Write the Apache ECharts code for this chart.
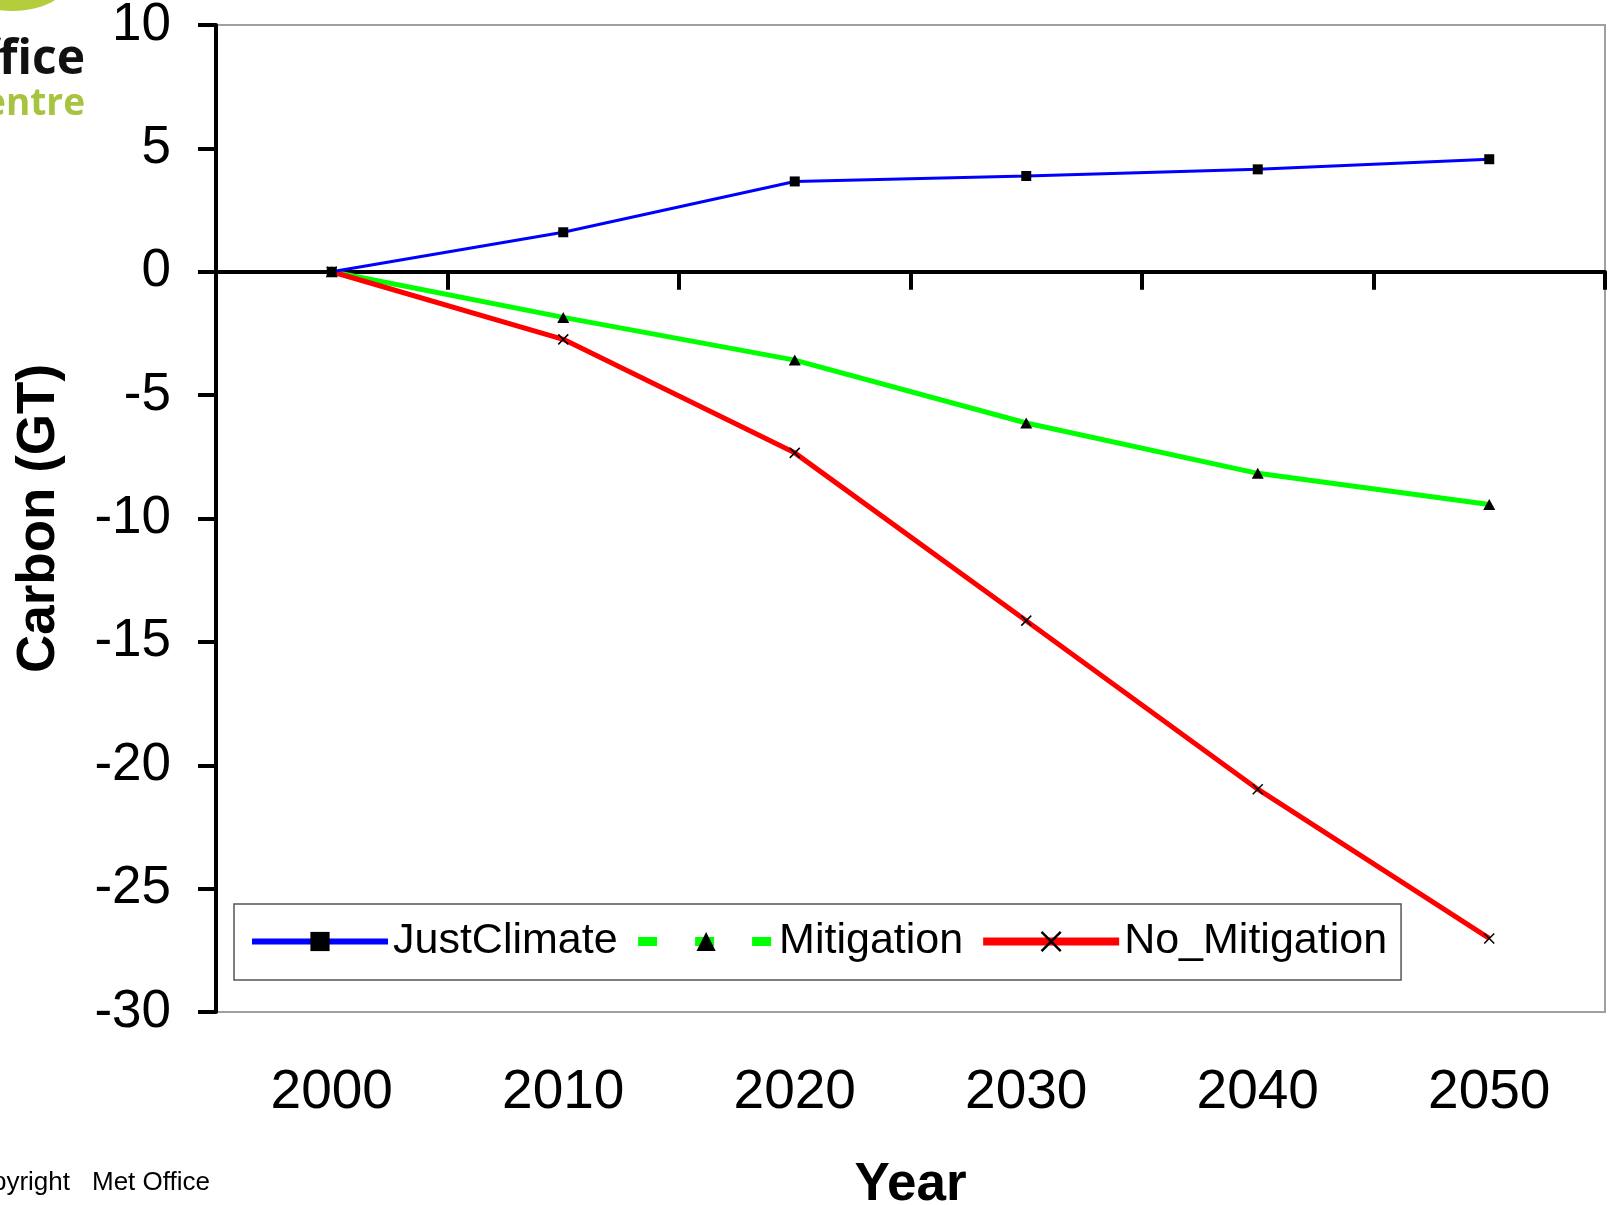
<!DOCTYPE html>
<html>
<head>
<meta charset="utf-8">
<title>Carbon (GT)</title>
<script src="https://cdn.jsdelivr.net/npm/echarts@6/dist/echarts.min.js"></script>
<style>
  html, body { margin: 0; padding: 0; background: #ffffff; }
  #chart { width: 1611px; height: 1205px; }
</style>
</head>
<body>
<div id="chart"></div>
<script>
// Years on the category axis
const years = ['2000', '2010', '2020', '2030', '2040', '2050'];

// Carbon (GT) per scenario
const justClimate = [0, 1.6, 3.66, 3.88, 4.15, 4.56];
const mitigation = [0, -1.85, -3.58, -6.13, -8.17, -9.43];
const noMitigation = [0, -2.74, -7.34, -14.14, -20.97, -27.02];

// Value axis range
const yMin = -30;
const yMax = 10;
const yStep = 5;

const FONT = "'Liberation Sans', Arial, Helvetica, sans-serif";
const crossPath = 'path://M0,0L10,10M10,0L0,10';

const chart = echarts.init(document.getElementById('chart'), null, { renderer: 'canvas' });

chart.setOption({
  animation: false,
  backgroundColor: '#ffffff',
  textStyle: { fontFamily: FONT },
  grid: {
    left: 216,
    top: 25,
    right: 6,
    bottom: 193,
    show: true,
    borderColor: '#a0a0a0',
    borderWidth: 2,
    containLabel: false,
    outerBoundsMode: 'none'
  },
  legend: {
    left: 234,
    top: 904,
    orient: 'horizontal',
    padding: [16, 14, 17, 15],
    itemGap: 16,
    itemWidth: 136,
    itemHeight: 24,
    borderColor: '#555555',
    borderWidth: 1.5,
    backgroundColor: '#ffffff',
    textStyle: { fontSize: 43, color: '#000000', fontFamily: FONT, padding: [0, 0, 0, 0] },
    data: [
      { name: 'JustClimate', lineStyle: { width: 6 } },
      { name: 'Mitigation', lineStyle: { width: 9, type: [19, 38] } },
      { name: 'No_Mitigation', lineStyle: { width: 8 }, itemStyle: { borderWidth: 2.5, borderColor: '#000000' } }
    ]
  },
  xAxis: [
    {
      // axis line through zero with its ticks
      type: 'category',
      data: years,
      position: 'bottom',
      boundaryGap: true,
      axisLine: { show: true, onZero: true, lineStyle: { color: '#000000', width: 4 } },
      axisTick: { show: true, inside: false, length: 18, lineStyle: { color: '#000000', width: 4 } },
      axisLabel: { show: false },
      splitLine: { show: false }
    },
    {
      // year labels along the bottom of the plot
      type: 'category',
      data: years,
      position: 'bottom',
      boundaryGap: true,
      axisLine: { show: false, onZero: false },
      axisTick: { show: false },
      axisLabel: { show: true, fontSize: 55, color: '#000000', margin: 53, fontFamily: FONT },
      splitLine: { show: false },
      name: 'Year',
      nameLocation: 'middle',
      nameGap: 147,
      nameTextStyle: { fontSize: 53, fontWeight: 'bold', color: '#000000', fontFamily: FONT }
    }
  ],
  yAxis: {
    type: 'value',
    min: yMin,
    max: yMax,
    interval: yStep,
    axisLine: { show: true, lineStyle: { color: '#000000', width: 4 } },
    axisTick: { show: true, inside: false, length: 18, lineStyle: { color: '#000000', width: 4 } },
    axisLabel: { fontSize: 53, color: '#000000', margin: 45, fontFamily: FONT },
    splitLine: { show: false },
    name: 'Carbon (GT)',
    nameLocation: 'middle',
    nameRotate: 90,
    nameGap: 150,
    nameTextStyle: { fontSize: 53, fontWeight: 'bold', color: '#000000', fontFamily: FONT }
  },
  series: [
    {
      name: 'JustClimate',
      type: 'line',
      xAxisIndex: 0,
      data: justClimate,
      symbol: 'rect',
      symbolSize: 10,
      lineStyle: { color: '#0000ff', width: 3 },
      itemStyle: { color: '#000000' },
      z: 4
    },
    {
      name: 'Mitigation',
      type: 'line',
      xAxisIndex: 0,
      data: mitigation,
      symbol: 'triangle',
      symbolSize: [12, 11],
      lineStyle: { color: '#00ff00', width: 5 },
      itemStyle: { color: '#000000' },
      z: 2
    },
    {
      name: 'No_Mitigation',
      type: 'line',
      xAxisIndex: 0,
      data: noMitigation,
      symbol: crossPath,
      symbolSize: 10,
      lineStyle: { color: '#ff0000', width: 5 },
      itemStyle: { color: '#000000', borderColor: '#000000', borderWidth: 1.5 },
      z: 3
    }
  ],
  graphic: [
    // corner logo
    {
      type: 'ellipse',
      shape: { cx: 12, cy: -22, rx: 58, ry: 33 },
      style: { fill: '#b3cd3c' },
      silent: true
    },
    {
      type: 'text',
      x: 85,
      y: 60,
      style: {
        text: 'Met Office',
        fontSize: 48,
        fontWeight: 'bold',
        fontFamily: "'Open Sans', 'DejaVu Sans', sans-serif",
        fill: '#111111',
        align: 'right',
        verticalAlign: 'middle'
      },
      silent: true
    },
    {
      type: 'text',
      x: 85,
      y: 104,
      style: {
        text: 'Hadley Centre',
        fontSize: 37,
        fontWeight: 'bold',
        fontFamily: "'Open Sans', 'DejaVu Sans', sans-serif",
        fill: '#a6c440',
        align: 'right',
        verticalAlign: 'middle'
      },
      silent: true
    },
    // copyright line
    {
      type: 'text',
      x: 70,
      y: 1183,
      style: {
        text: 'Copyright',
        fontSize: 26,
        fontFamily: FONT,
        fill: '#000000',
        align: 'right',
        verticalAlign: 'middle'
      },
      silent: true
    },
    {
      type: 'text',
      x: 92,
      y: 1183,
      style: {
        text: 'Met Office',
        fontSize: 26,
        fontFamily: FONT,
        fill: '#000000',
        align: 'left',
        verticalAlign: 'middle'
      },
      silent: true
    }
  ]
});
</script>
</body>
</html>
